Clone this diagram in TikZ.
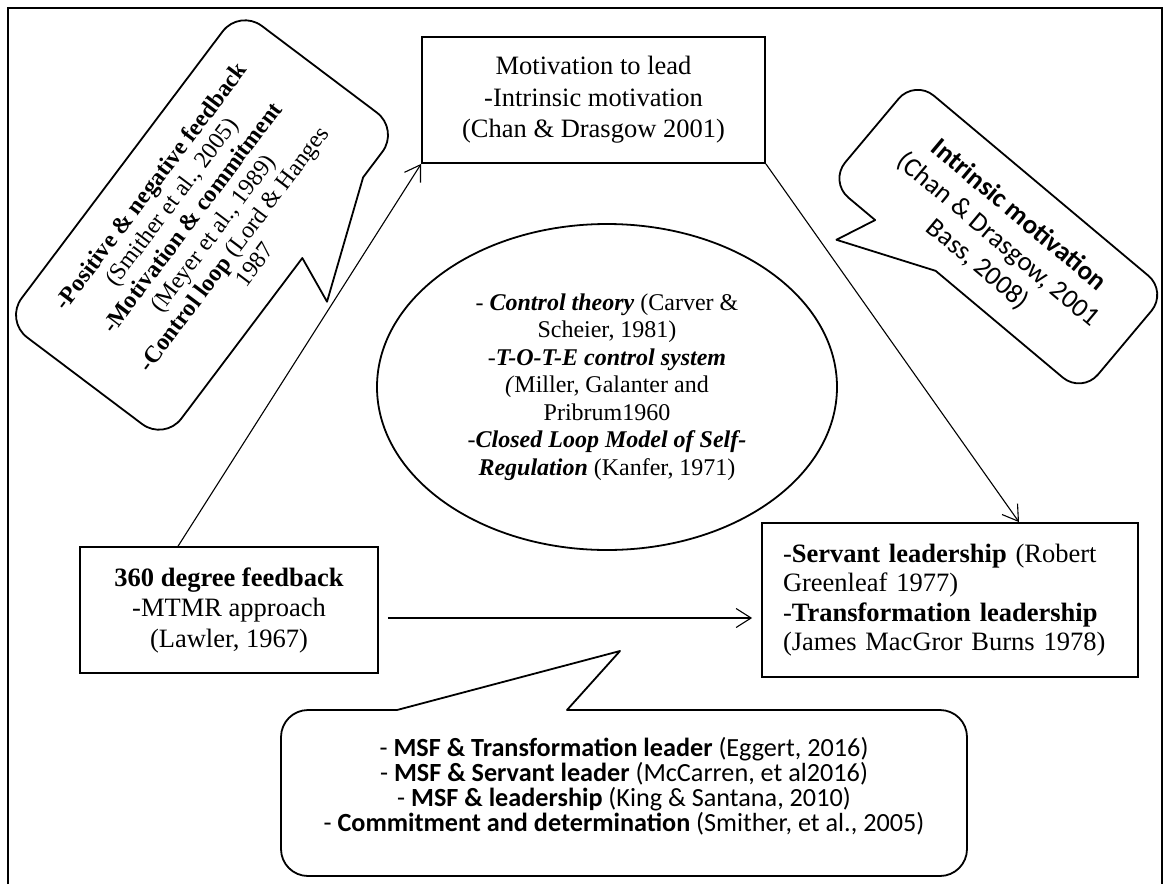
\documentclass[tikz,border=0pt]{standalone}
\usepackage{fontspec}
\setmainfont{Liberation Serif}
\newfontfamily\calfont{Carlito}
\usetikzlibrary{arrows.meta,shapes.geometric,calc}

\begin{document}
\begin{tikzpicture}[x=1pt,y=1pt,
  frame/.style={line width=1.6pt},
  boxnode/.style={draw,line width=1.8pt,inner sep=0pt,align=center},
  link/.style={line width=1.1pt,-{Straight Barb[length=15pt,width=19pt,line width=1.1pt]}},
  bubble/.style={draw,line width=1.8pt,line join=round},
  ovalnode/.style={draw,ellipse,line width=1.8pt,inner sep=0pt,align=center}
]
\useasboundingbox (0,-884) rectangle (1165,0);
\fill[white] (0,-884) rectangle (1165,0);

% outer frame (open at the bottom)
\draw[frame] (8,-884) -- (8,-8) -- (1162,-8) -- (1162,-884);

% central theory oval
\node[ovalnode, minimum width=460pt, minimum height=326pt,
      font=\fontsize{24}{27.5}\selectfont] (ctl) at (607,-387)
  {- \textbf{\textit{Control theory}} (Carver \&\\
   Scheier, 1981)\\
   -\textbf{\textit{T-O-T-E control system}}\\
   \textit{(}Miller, Galanter and\\
   Pribrum1960\\
   -\textbf{\textit{Closed Loop Model of Self-}}\\
   \textbf{\textit{Regulation}} (Kanfer, 1971)};

% boxes
\node[boxnode, minimum width=343pt, minimum height=126pt,
      font=\fontsize{26.5}{31.5}\selectfont] (mtl) at (593.5,-100)
  {Motivation to lead\\-Intrinsic motivation\\(Chan \& Drasgow 2001)};

\node[boxnode, minimum width=298pt, minimum height=126pt,
      font=\fontsize{26.5}{30.5}\selectfont] (b360) at (229,-610)
  {\textbf{360 degree feedback}\\-MTMR approach\\(Lawler, 1967)};

\node[boxnode, align=left, text width=334pt, inner xsep=21pt,
      minimum height=154pt,
      font=\fontsize{26.5}{29.5}\selectfont] (lead) at (950,-600)
  {-\textbf{Servant leadership} (Robert\\
   Greenleaf 1977)\\
   -\textbf{Transformation leadership}\\
   (James MacGror Burns 1978)};

% speech bubble, upper left
\begin{scope}[shift={(202,-225)}, rotate=53]
  \draw[bubble] (34,-100) -- (-167,-100)
    arc[start angle=270,end angle=180,radius=28] -- (-195,72)
    arc[start angle=180,end angle=90,radius=28] -- (167,100)
    arc[start angle=90,end angle=0,radius=28] -- (195,-72)
    arc[start angle=0,end angle=-90,radius=28] -- (135,-100)
    -- (14,-146) -- cycle;
\end{scope}
\node[rotate=53, align=center, font=\fontsize{23.9}{26}\selectfont] (fb) at (202,-225)
  {\textbf{-Positive \& negative feedback}\\
   (Smither et al., 2005)\\
   \textbf{-Motivation \& commitment}\\
   (Meyer et al., 1989)\\
   \textbf{-Control loop} (Lord \& Hanges\\
   1987};

% speech bubble, upper right
\begin{scope}[shift={(998,-237)}, rotate=-40]
  \draw[bubble] (-26,-66) -- (140,-66)
    arc[start angle=270,end angle=360,radius=25] -- (165,42)
    arc[start angle=0,end angle=90,radius=25] -- (-140,67)
    arc[start angle=90,end angle=180,radius=25] -- (-165,-41)
    arc[start angle=180,end angle=270,radius=25] -- (-105,-66)
    -- (-122,-106) -- cycle;
\end{scope}
\node[rotate=-40, align=center, font=\calfont\fontsize{27}{32}\selectfont] (im) at (998,-240)
  {\textbf{Intrinsic motivation}\\
   (Chan \& Drasgow, 2001\\
   Bass, 2008)};

% speech bubble, bottom
\draw[bubble] (567,-710) -- (940,-710)
  arc[start angle=90,end angle=0,radius=27] -- (967,-849)
  arc[start angle=0,end angle=-90,radius=27] -- (308,-876)
  arc[start angle=270,end angle=180,radius=27] -- (281,-737)
  arc[start angle=180,end angle=90,radius=27] -- (397,-710)
  -- (620,-651) -- cycle;
\node[align=center, font=\calfont\fontsize{26.2}{25}\selectfont] (msf) at (624,-786)
  {- \textbf{MSF \& Transformation leader} (Eggert, 2016)\\
   - \textbf{MSF \& Servant leader} (McCarren, et al2016)\\
   - \textbf{MSF \& leadership} (King \& Santana, 2010)\\
   - \textbf{Commitment and determination} (Smither, et al., 2005)};

% connectors
\draw[link] ([xshift=99pt]b360.north west) -- (mtl.south west);
\draw[link] (mtl.south east) -- ([xshift=69pt]lead.north);
\draw[link] ([shift={(9pt,-8pt)}]b360.east) -- ([shift={(-9pt,-18pt)}]lead.west);
\end{tikzpicture}
\end{document}
